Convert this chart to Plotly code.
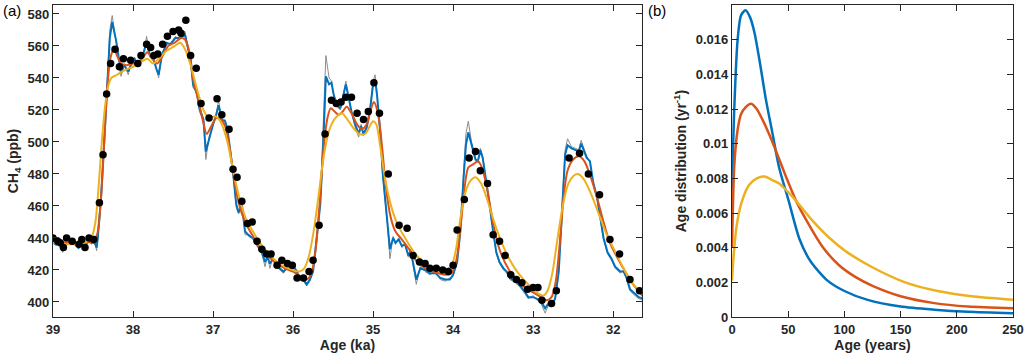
import plotly.graph_objects as go

# ---------------- Panel (a) data ----------------
blue_age = [39.00, 38.96, 38.92, 38.88, 38.84, 38.80, 38.76, 38.72, 38.68, 38.64, 38.60, 38.56, 38.52, 38.48, 38.455,
            38.44, 38.40, 38.36, 38.32, 38.29, 38.26, 38.23, 38.21, 38.17, 38.15, 38.11, 38.06, 38.02, 37.98, 37.94,
            37.90, 37.86, 37.83, 37.79, 37.75, 37.71, 37.68, 37.64, 37.58, 37.53, 37.47, 37.42, 37.38, 37.35, 37.31,
            37.28, 37.25, 37.20, 37.17, 37.12, 37.09, 37.05, 37.00, 36.96, 36.93, 36.89, 36.85, 36.82, 36.79, 36.75,
            36.71, 36.68, 36.64, 36.60, 36.54, 36.50, 36.46, 36.39, 36.35, 36.32, 36.29, 36.25, 36.21, 36.16, 36.12,
            36.06, 36.02, 35.98, 35.95, 35.93, 35.87, 35.83, 35.79, 35.75, 35.71, 35.66, 35.62, 35.59, 35.55, 35.52,
            35.49, 35.45, 35.41, 35.37, 35.34, 35.31, 35.27, 35.23, 35.18, 35.15, 35.12, 35.08, 35.04, 35.00, 34.975,
            34.95, 34.91, 34.88, 34.85, 34.82, 34.79, 34.75, 34.72, 34.68, 34.64, 34.60, 34.56, 34.53, 34.50, 34.46,
            34.41, 34.35, 34.29, 34.22, 34.16, 34.10, 34.04, 34.00, 33.95, 33.91, 33.87, 33.84, 33.81, 33.77, 33.72,
            33.69, 33.66, 33.63, 33.59, 33.55, 33.50, 33.46, 33.42, 33.37, 33.33, 33.29, 33.22, 33.16, 33.10, 33.06,
            33.00, 32.95, 32.91, 32.85, 32.81, 32.77, 32.725, 32.68, 32.64, 32.60, 32.57, 32.52, 32.47, 32.43, 32.40,
            32.36, 32.33, 32.29, 32.25, 32.20, 32.16, 32.12, 32.07, 32.02, 31.975, 31.91, 31.87, 31.83, 31.79, 31.75,
            31.68, 31.62]
blue_ch4 = [437, 436, 437, 432, 436, 437, 438, 436, 434, 437, 435, 438, 437, 437, 434,
            440, 465, 500, 540, 565, 575, 568, 563, 550, 543, 548, 544, 549, 552, 548,
            551, 557, 563, 554, 553, 546, 542, 554, 562, 561, 565, 565, 566, 567, 558,
            552, 536, 530, 521, 514, 494, 502, 511, 517, 523, 514, 513, 508, 496, 481,
            461, 456, 461, 444, 441, 440, 437, 431, 425, 428, 424, 427, 423, 421, 419,
            422, 421, 421, 419, 416, 414, 411, 414, 419, 436, 461, 502, 541, 536, 537,
            529, 523, 521, 529, 536, 529, 519, 512, 505, 510, 505, 509, 519, 536, 539,
            529, 506, 481, 465, 450, 433, 440, 437, 439, 435, 436, 429, 432, 425, 414,
            421, 420, 418, 418, 415, 414, 414, 417, 425, 444, 477, 498, 506, 498, 489,
            488, 495, 490, 477, 463, 444, 431, 425, 421, 419, 415, 413, 410, 406, 403,
            403, 402, 401, 396, 399, 398, 402, 419, 456, 492, 498, 496, 495, 494, 499,
            494, 490, 488, 475, 465, 452, 440, 431, 427, 422, 419, 419, 415, 408, 406,
            403, 402]
gray_ch4 = [438, 435, 438, 431, 437, 436, 439, 435, 433, 438, 434, 439, 436, 438, 432,
            441, 466, 502, 544, 570, 579, 570, 562, 549, 541, 549, 542, 550, 551, 547,
            552, 558, 566, 553, 554, 545, 540, 555, 561, 562, 566, 564, 568, 569, 557,
            551, 534, 531, 519, 513, 489, 503, 510, 518, 526, 513, 514, 507, 495, 480,
            459, 455, 462, 442, 442, 439, 436, 430, 422, 429, 421, 428, 422, 420, 418,
            423, 420, 422, 418, 414, 413, 410, 413, 420, 437, 463, 515, 554, 540, 538,
            528, 522, 520, 531, 538, 528, 518, 510, 503, 511, 504, 510, 521, 538, 542,
            530, 504, 479, 463, 448, 427, 441, 436, 440, 434, 437, 428, 433, 423, 411,
            422, 419, 417, 419, 414, 413, 415, 416, 426, 446, 480, 505, 513, 500, 490,
            487, 496, 491, 476, 462, 443, 430, 424, 420, 418, 414, 412, 409, 405, 402,
            404, 401, 400, 393, 398, 397, 403, 420, 458, 495, 502, 497, 496, 495, 501,
            495, 491, 487, 474, 464, 451, 439, 430, 426, 421, 418, 420, 414, 407, 405,
            402, 401]

red_age = [39.00, 38.80, 38.60, 38.50, 38.45, 38.40, 38.36, 38.32, 38.28, 38.24, 38.20, 38.15, 38.08, 38.00, 37.93,
           37.86, 37.82, 37.76, 37.70, 37.64, 37.56, 37.48, 37.40, 37.35, 37.30, 37.25, 37.18, 37.12, 37.08, 37.02,
           36.96, 36.90, 36.85, 36.80, 36.74, 36.68, 36.60, 36.50, 36.40, 36.30, 36.20, 36.10, 36.00, 35.90, 35.83,
           35.77, 35.72, 35.67, 35.62, 35.57, 35.53, 35.48, 35.43, 35.38, 35.33, 35.27, 35.20, 35.14, 35.08, 35.03,
           34.99, 34.94, 34.89, 34.84, 34.78, 34.72, 34.64, 34.55, 34.45, 34.35, 34.25, 34.10, 34.02, 33.96, 33.91,
           33.86, 33.81, 33.75, 33.69, 33.64, 33.58, 33.52, 33.46, 33.40, 33.30, 33.20, 33.10, 33.00, 32.90, 32.83,
           32.77, 32.72, 32.67, 32.62, 32.57, 32.50, 32.43, 32.36, 32.28, 32.20, 32.12, 32.04, 31.95, 31.85, 31.75,
           31.62]
red_ch4 = [438, 437, 437, 438, 442, 465, 500, 535, 553, 558, 554, 549, 548, 549, 550,
           554, 556, 552, 549, 553, 560, 562, 565, 564, 557, 540, 525, 512, 505, 510,
           515, 514, 510, 499, 478, 462, 450, 441, 433, 428, 424, 421, 419, 416, 414,
           418, 432, 460, 495, 515, 521, 519, 517, 519, 522, 518, 511, 508, 511, 520,
           525, 518, 498, 472, 453, 444, 439, 433, 425, 421, 419, 417, 418, 426, 445,
           470, 484, 486, 488, 484, 472, 455, 440, 430, 420, 414, 409, 406, 403, 401,
           403, 412, 435, 465, 482, 489, 491, 488, 478, 465, 450, 437, 428, 419, 411,
           403]

yellow_age = [39.00, 38.80, 38.60, 38.52, 38.47, 38.43, 38.39, 38.35, 38.31, 38.27, 38.20, 38.10, 38.00, 37.90, 37.82,
              37.75, 37.68, 37.58, 37.48, 37.41, 37.35, 37.28, 37.20, 37.12, 37.05, 36.97, 36.90, 36.82, 36.74, 36.66,
              36.58, 36.50, 36.40, 36.30, 36.20, 36.10, 36.00, 35.92, 35.86, 35.80, 35.74, 35.68, 35.62, 35.55, 35.47,
              35.39, 35.32, 35.25, 35.17, 35.10, 35.04, 35.00, 34.96, 34.91, 34.85, 34.78, 34.70, 34.60, 34.50, 34.40,
              34.30, 34.18, 34.08, 34.01, 33.96, 33.91, 33.85, 33.78, 33.72, 33.65, 33.58, 33.50, 33.40, 33.30, 33.20,
              33.10, 33.00, 32.93, 32.87, 32.82, 32.76, 32.70, 32.63, 32.56, 32.49, 32.44, 32.37, 32.28, 32.18, 32.08,
              31.98, 31.88, 31.78, 31.62]
yellow_ch4 = [437, 436, 437, 440, 450, 472, 500, 522, 535, 540, 542, 545, 547, 550, 552,
              549, 552, 557, 560, 562, 558, 548, 533, 520, 515, 516, 512, 500, 480, 463,
              451, 444, 436, 430, 425, 422, 420, 419, 421, 429, 445, 467, 490, 507, 515,
              518, 514, 509, 505, 505, 510, 513, 511, 497, 477, 461, 449, 440, 432, 426,
              422, 420, 420, 424, 434, 452, 468, 476, 478, 474, 465, 452, 438, 427, 419,
              413, 408, 405, 404, 407, 418, 438, 460, 474, 479, 480, 477, 468, 455, 442,
              432, 422, 413, 404]

dot_age = [39.00, 38.94, 38.91, 38.87, 38.83, 38.76, 38.675, 38.64, 38.60, 38.55, 38.49, 38.42, 38.375, 38.33, 38.28,
           38.225, 38.17, 38.12, 38.03, 37.94, 37.90, 37.83, 37.78, 37.74, 37.69, 37.63, 37.57, 37.50, 37.43, 37.40,
           37.34, 37.28, 37.21, 37.15, 37.05, 36.95, 36.89, 36.80, 36.75, 36.70, 36.64, 36.57, 36.51, 36.45, 36.39,
           36.33, 36.275, 36.20, 36.14, 36.07, 36.01, 35.95, 35.87, 35.80, 35.75, 35.675, 35.60, 35.52, 35.46, 35.40,
           35.34, 35.27, 35.20, 35.12, 35.06, 34.99, 34.92, 34.81, 34.675, 34.575, 34.50, 34.42, 34.35, 34.29, 34.21,
           34.13, 34.06, 34.00, 33.95, 33.86, 33.80, 33.72, 33.66, 33.57, 33.50, 33.42, 33.35, 33.28, 33.21, 33.14,
           33.07, 33.00, 32.94, 32.89, 32.77, 32.71, 32.55, 32.42, 32.31, 32.17, 32.04, 31.92, 31.79, 31.67]
dot_ch4 = [440, 438, 437, 434, 440, 438, 436, 439, 434, 440, 439, 462, 492, 530, 549,
           558, 547, 552, 551, 549, 554, 561, 559, 554, 555, 561, 566, 569, 570, 568,
           576, 554, 546, 524, 515, 527, 517, 508, 483, 478, 463, 449, 450, 438, 433,
           430, 430, 423, 426, 424, 423, 415, 415, 419, 426, 448, 505, 526, 524, 525,
           528, 528, 518, 514, 519, 537, 518, 480, 448, 446, 429, 425, 424, 421, 421,
           420, 419, 423, 445, 464, 490, 494, 482, 474, 442, 438, 429, 417, 414, 412,
           408, 409, 409, 401, 399, 407, 490, 493, 480, 467, 439, 430, 414, 407]

# ---------------- Panel (b) data ----------------
b_blue_age = [0, 2, 5, 8, 12, 16, 20, 25, 30, 36, 42, 50, 60, 70, 85, 100, 120, 150, 180, 210, 250]
b_blue_val = [0.0073, 0.0120, 0.0160, 0.0174, 0.0177, 0.0173, 0.0164, 0.0146, 0.0126, 0.0106, 0.0086, 0.0068,
              0.0045, 0.0032, 0.0021, 0.0015, 0.0010, 0.0006, 0.00042, 0.0003, 0.00022]
b_red_age = [0, 2, 5, 8, 12, 17, 22, 27, 32, 39, 48, 57, 66, 80, 95, 110, 125, 150, 180, 210, 250]
b_red_val = [0.0040, 0.0087, 0.0108, 0.0117, 0.0121, 0.0123, 0.0120, 0.0114, 0.0107, 0.0096, 0.0081, 0.0067,
             0.0056, 0.0041, 0.0030, 0.0023, 0.0018, 0.0012, 0.0008, 0.0006, 0.0005]
b_yel_age = [0, 1.5, 4, 8, 15, 22, 29, 36, 42, 50, 57, 71, 86, 101, 124, 154, 183, 213, 250]
b_yel_val = [0.0021, 0.0036, 0.0052, 0.0065, 0.0076, 0.0080, 0.0081, 0.0079, 0.0077, 0.0072, 0.0067, 0.0056,
             0.0046, 0.0038, 0.0029, 0.0020, 0.0015, 0.0012, 0.0010]

a_xticks = [39, 38, 37, 36, 35, 34, 33, 32]
a_yticks = [400, 420, 440, 460, 480, 500, 520, 540, 560, 580]
b_xticks = [0, 50, 100, 150, 200, 250]
b_yticks = [0, 0.002, 0.004, 0.006, 0.008, 0.01, 0.012, 0.014, 0.016, 0.018]
b_yticktext = ["0", "0.002", "0.004", "0.006", "0.008", "0.01", "0.012", "0.014", "0.016", "0.018"]

BLUE = "#0072BD"
RED = "#D95319"
YEL = "#EDB120"
GRAY = "#8c8c8c"
AX = "#262626"
FONT = "Liberation Sans, Arial, sans-serif"

fig = go.Figure()
fig.add_trace(go.Scatter(x=blue_age, y=gray_ch4, mode="lines", line=dict(color=GRAY, width=1),
                         xaxis="x", yaxis="y", showlegend=False))
fig.add_trace(go.Scatter(x=blue_age, y=blue_ch4, mode="lines", line=dict(color=BLUE, width=2),
                         xaxis="x", yaxis="y", showlegend=False))
fig.add_trace(go.Scatter(x=red_age, y=red_ch4, mode="lines", line=dict(color=RED, width=2, shape="spline", smoothing=0.8),
                         xaxis="x", yaxis="y", showlegend=False))
fig.add_trace(go.Scatter(x=yellow_age, y=yellow_ch4, mode="lines", line=dict(color=YEL, width=2, shape="spline", smoothing=0.8),
                         xaxis="x", yaxis="y", showlegend=False))
fig.add_trace(go.Scatter(x=dot_age, y=dot_ch4, mode="markers", marker=dict(color="black", size=7.5),
                         xaxis="x", yaxis="y", showlegend=False))

fig.add_trace(go.Scatter(x=b_blue_age, y=b_blue_val, mode="lines", line=dict(color=BLUE, width=2.5, shape="spline", smoothing=0.7),
                         xaxis="x2", yaxis="y2", showlegend=False))
fig.add_trace(go.Scatter(x=b_red_age, y=b_red_val, mode="lines", line=dict(color=RED, width=2.5, shape="spline", smoothing=0.7),
                         xaxis="x2", yaxis="y2", showlegend=False))
fig.add_trace(go.Scatter(x=b_yel_age, y=b_yel_val, mode="lines", line=dict(color=YEL, width=2.5, shape="spline", smoothing=0.7),
                         xaxis="x2", yaxis="y2", showlegend=False))

tickfont = dict(family=FONT, size=13, color=AX, weight="bold")
titlefont = dict(family=FONT, size=14, color=AX, weight="bold")
common = dict(showline=True, linecolor=AX, linewidth=1.3, mirror="ticks", ticks="inside", ticklen=6,
              tickwidth=1.2, tickcolor=AX, showgrid=False, zeroline=False, tickfont=tickfont)

fig.update_layout(
    width=1026, height=358,
    margin=dict(l=53, r=13, t=5, b=41, autoexpand=False),
    paper_bgcolor="white", plot_bgcolor="white",
    xaxis=dict(domain=[0, 0.6135], range=[39, 31.64], tickvals=a_xticks, ticktext=[str(v) for v in a_xticks],
               title=dict(text="Age (ka)", font=titlefont, standoff=4), **common),
    yaxis=dict(domain=[0, 1], range=[390.6, 585.6], tickvals=a_yticks,
               title=dict(text="CH<sub>4</sub> (ppb)", font=titlefont, standoff=5), **common),
    xaxis2=dict(domain=[0.7073, 1], range=[0, 250], tickvals=b_xticks, anchor="y2",
                title=dict(text="Age (years)", font=titlefont, standoff=4), **common),
    yaxis2=dict(domain=[0, 1], range=[0, 0.018], tickvals=b_yticks, ticktext=b_yticktext, anchor="x2",
                title=dict(text="Age distribution (yr<sup>-1</sup>)", font=titlefont, standoff=5), **common),
    annotations=[
        dict(text="(a)", xref="paper", yref="paper", x=-0.054, y=1.016, xanchor="left", yanchor="top",
             showarrow=False, font=dict(family=FONT, size=15, color="black")),
        dict(text="(b)", xref="paper", yref="paper", x=0.618, y=1.016, xanchor="left", yanchor="top",
             showarrow=False, font=dict(family=FONT, size=15, color="black")),
    ],
)

fig.write_html("out.html", config={"displayModeBar": False},
               post_script="document.body.style.margin='0px';document.body.style.padding='0px';")
